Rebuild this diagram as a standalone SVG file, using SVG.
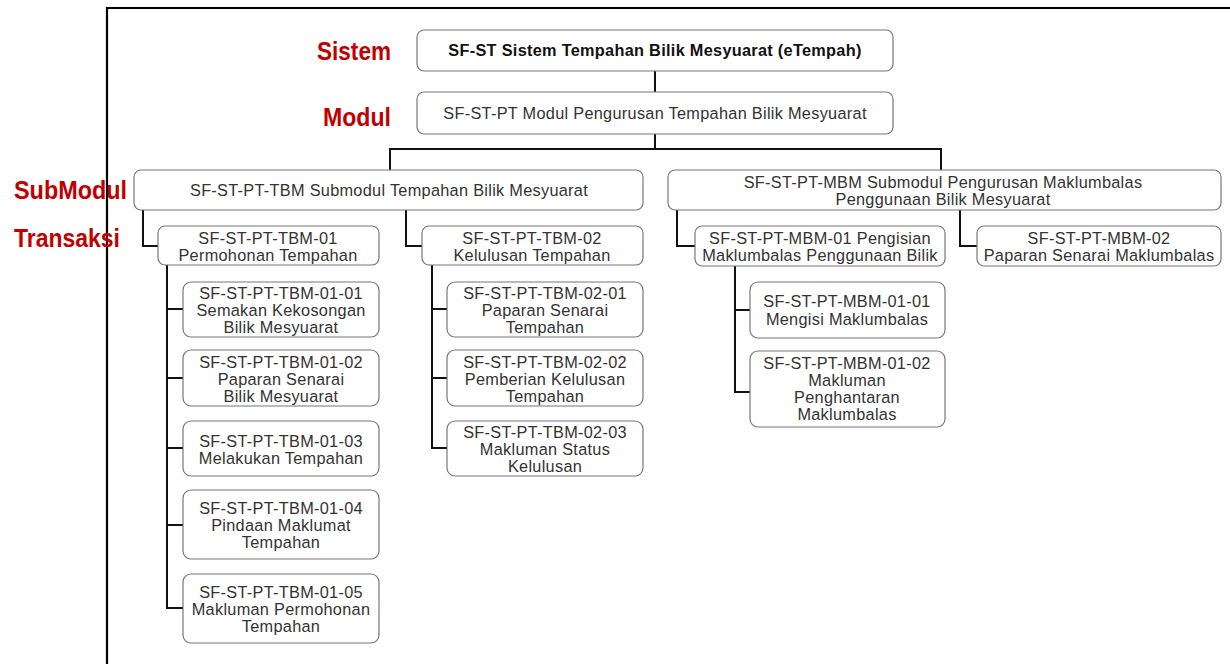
<svg xmlns="http://www.w3.org/2000/svg" width="1230" height="664" viewBox="0 0 1230 664">
<style>
.box{fill:#fff;stroke:#777;stroke-width:1.2}
.t{font-family:"Liberation Sans",Arial,sans-serif;font-size:16.3px;letter-spacing:0.3px;fill:#333;text-anchor:middle}
.tb{font-family:"Liberation Sans",Arial,sans-serif;font-size:16.3px;letter-spacing:0.3px;font-weight:bold;fill:#111;text-anchor:middle}
.lbl{font-family:"Liberation Sans Narrow","Liberation Sans",Arial,sans-serif;font-size:25px;font-weight:bold;fill:#c00000}
.c{fill:none;stroke:#111;stroke-width:2}
.frame{fill:none;stroke:#000;stroke-width:2.2}
</style>
<rect width="1230" height="664" fill="#fff"/>
<path class="frame" d="M107,664 V8 H1230"/>
<g id="labels">
<text class="lbl" x="317" y="60" textLength="74" lengthAdjust="spacingAndGlyphs">Sistem</text>
<text class="lbl" x="323" y="126" textLength="68" lengthAdjust="spacingAndGlyphs">Modul</text>
<text class="lbl" x="14" y="199" textLength="113" lengthAdjust="spacingAndGlyphs">SubModul</text>
<text class="lbl" x="14" y="247" textLength="106" lengthAdjust="spacingAndGlyphs">Transaksi</text>
</g>
<g id="connectors">
<path class="c" d="M655,71 V92"/>
<path class="c" d="M655,134 V149 M390,170 V149 H941 V170"/>
<path class="c" d="M143,210 V246 H158"/>
<path class="c" d="M406,210 V246 H422"/>
<path class="c" d="M677,210 V246 H695"/>
<path class="c" d="M960,210 V246 H977"/>
<path class="c" d="M167,265 V608 H183 M167,309 H183 M167,378 H183 M167,448 H183 M167,525 H183"/>
<path class="c" d="M432,265 V448 H447 M432,309 H447 M432,378 H447"/>
<path class="c" d="M735,266 V392 H750 M735,310 H750"/>
</g>
<g id="n-sistem"><rect class="box" x="417" y="30" width="476" height="41" rx="7"/><text class="tb" x="655" y="56">SF-ST Sistem Tempahan Bilik Mesyuarat (eTempah)</text></g>
<g id="n-modul"><rect class="box" x="417" y="92" width="476" height="42" rx="7"/><text class="t" x="655" y="119">SF-ST-PT Modul Pengurusan Tempahan Bilik Mesyuarat</text></g>
<g id="n-tbm"><rect class="box" x="134" y="170" width="509" height="40" rx="7"/><text class="t" x="389" y="196">SF-ST-PT-TBM Submodul Tempahan Bilik Mesyuarat</text></g>
<g id="n-mbm"><rect class="box" x="668" y="170" width="553" height="40" rx="7"/><text class="t" x="943" y="188">SF-ST-PT-MBM Submodul Pengurusan Maklumbalas</text><text class="t" x="943" y="205">Penggunaan Bilik Mesyuarat</text></g>
<g id="n-tbm01"><rect class="box" x="158" y="226" width="221" height="39" rx="7"/><text class="t" x="268" y="244">SF-ST-PT-TBM-01</text><text class="t" x="268" y="261">Permohonan Tempahan</text></g>
<g id="n-tbm02"><rect class="box" x="422" y="226" width="221" height="39" rx="7"/><text class="t" x="532" y="244">SF-ST-PT-TBM-02</text><text class="t" x="532" y="261">Kelulusan Tempahan</text></g>
<g id="n-mbm01"><rect class="box" x="695" y="226" width="250" height="40" rx="7"/><text class="t" x="820" y="244">SF-ST-PT-MBM-01 Pengisian</text><text class="t" x="820" y="261">Maklumbalas Penggunaan Bilik</text></g>
<g id="n-mbm02"><rect class="box" x="977" y="226" width="244" height="40" rx="7"/><text class="t" x="1099" y="244">SF-ST-PT-MBM-02</text><text class="t" x="1099" y="261">Paparan Senarai Maklumbalas</text></g>
<g id="n-tbm0101"><rect class="box" x="183" y="282" width="196" height="55" rx="8"/><text class="t" x="281" y="299">SF-ST-PT-TBM-01-01</text><text class="t" x="281" y="316">Semakan Kekosongan</text><text class="t" x="281" y="333">Bilik Mesyuarat</text></g>
<g id="n-tbm0102"><rect class="box" x="183" y="350" width="196" height="56" rx="8"/><text class="t" x="281" y="368">SF-ST-PT-TBM-01-02</text><text class="t" x="281" y="385">Paparan Senarai</text><text class="t" x="281" y="402">Bilik Mesyuarat</text></g>
<g id="n-tbm0103"><rect class="box" x="183" y="421" width="196" height="55" rx="8"/><text class="t" x="281" y="447">SF-ST-PT-TBM-01-03</text><text class="t" x="281" y="464">Melakukan Tempahan</text></g>
<g id="n-tbm0104"><rect class="box" x="183" y="490" width="196" height="69" rx="8"/><text class="t" x="281" y="514">SF-ST-PT-TBM-01-04</text><text class="t" x="281" y="531">Pindaan Maklumat</text><text class="t" x="281" y="548">Tempahan</text></g>
<g id="n-tbm0105"><rect class="box" x="183" y="574" width="196" height="69" rx="8"/><text class="t" x="281" y="598">SF-ST-PT-TBM-01-05</text><text class="t" x="281" y="615">Makluman Permohonan</text><text class="t" x="281" y="632">Tempahan</text></g>
<g id="n-tbm0201"><rect class="box" x="447" y="282" width="196" height="55" rx="8"/><text class="t" x="545" y="299">SF-ST-PT-TBM-02-01</text><text class="t" x="545" y="316">Paparan Senarai</text><text class="t" x="545" y="333">Tempahan</text></g>
<g id="n-tbm0202"><rect class="box" x="447" y="350" width="196" height="56" rx="8"/><text class="t" x="545" y="368">SF-ST-PT-TBM-02-02</text><text class="t" x="545" y="385">Pemberian Kelulusan</text><text class="t" x="545" y="402">Tempahan</text></g>
<g id="n-tbm0203"><rect class="box" x="447" y="421" width="196" height="55" rx="8"/><text class="t" x="545" y="438">SF-ST-PT-TBM-02-03</text><text class="t" x="545" y="455">Makluman Status</text><text class="t" x="545" y="472">Kelulusan</text></g>
<g id="n-mbm0101"><rect class="box" x="750" y="282" width="195" height="56" rx="8"/><text class="t" x="847" y="307">SF-ST-PT-MBM-01-01</text><text class="t" x="847" y="325">Mengisi Maklumbalas</text></g>
<g id="n-mbm0102"><rect class="box" x="750" y="351" width="195" height="76" rx="8"/><text class="t" x="847" y="369">SF-ST-PT-MBM-01-02</text><text class="t" x="847" y="386">Makluman</text><text class="t" x="847" y="403">Penghantaran</text><text class="t" x="847" y="420">Maklumbalas</text></g>
</svg>
